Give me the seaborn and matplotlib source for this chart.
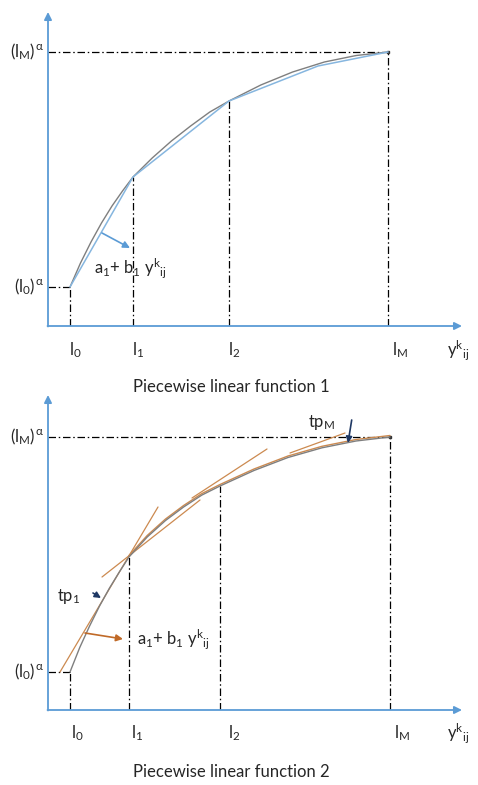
import matplotlib
matplotlib.use("Agg")
import matplotlib.pyplot as plt
import seaborn as sns

# ---- breakpoints (l0, l1, l2, lM) and function values, panel 1 ----
brk1_x = [2.2, 8.5, 18.1, 34.0]
brk1_y = [3.9, 14.9, 22.5, 27.4]
# concave function, panel 1
curve1_x = [2.2, 3.25, 4.3, 5.35, 6.4, 7.45, 8.5, 10.42, 12.34, 14.26, 16.18, 18.1,
            21.28, 24.46, 27.64, 30.82, 34.0]
curve1_y = [3.9, 6.3, 8.4, 10.3, 12.0, 13.5, 14.9, 16.8, 18.5, 20.0, 21.4, 22.5,
            24.1, 25.4, 26.4, 27.05, 27.4]
# piecewise linear approximation (chords), panel 1
pwl1_x = [2.2, 8.5, 18.1, 27.0, 34.0]
pwl1_y = [3.9, 14.9, 22.5, 26.0, 27.4]

# ---- panel 2 ----
brk2_x = [2.2, 8.1, 17.2, 34.2]
brk2_y = [3.8, 15.3, 22.4, 27.3]
curve2_x = [2.2, 3.18, 4.17, 5.15, 6.13, 7.12, 8.1, 9.92, 11.74, 13.56, 15.38, 17.2,
            20.6, 24.0, 27.4, 30.8, 34.2]
curve2_y = [3.8, 6.26, 8.42, 10.39, 12.16, 13.78, 15.3, 17.3, 18.94, 20.3, 21.49, 22.4,
            23.95, 25.25, 26.22, 26.9, 27.3]
# tangent-based approximation drawn over the function, panel 2
approx2_x = [8.1, 9.92, 11.74, 13.56, 15.38, 17.2, 20.6, 24.0, 27.4, 30.8, 34.2]
approx2_y = [15.45, 17.45, 19.09, 20.45, 21.64, 22.55, 24.1, 25.4, 26.37, 27.05, 27.45]
# tangent lines tp (start x, start y, end x, end y)
tangents2 = [
    (1.2, 3.8, 11.0, 20.3),
    (5.4, 13.3, 15.2, 21.0),
    (14.4, 21.2, 21.9, 26.1),
    (24.2, 25.7, 29.7, 27.7),
]

tick_labels = [r"$l_0$", r"$l_1$", r"$l_2$", r"$l_M$"]
y_top_label = r"$(l_M)^{\,\alpha}$"
y_bot_label = r"$(l_0)^{\,\alpha}$"
x_axis_label = r"$y^{k}{}_{ij}$"
eq_label = r"$a_1$+ $b_1$ $y^{k}{}_{ij}$"
titles = ["Piecewise linear function 1", "Piecewise linear function 2"]

sns.set_theme(style="white")
plt.rcParams["font.family"] = ["Lato", "DejaVu Sans"]
plt.rcParams["mathtext.fontset"] = "custom"
plt.rcParams["mathtext.rm"] = "Lato"
plt.rcParams["mathtext.it"] = "Lato"
plt.rcParams["mathtext.default"] = "regular"

AXIS_BLUE = "#5b9bd5"
CHORD_BLUE = "#86b6df"
GRAY = "#7f7f7f"
ORANGE = "#cc8a50"
NAVY = "#1f3864"
TEXT = "#262626"
DASH = (0, (6, 2.2, 1.2, 2.2))
FS = 12

W, H = 478, 785
fig = plt.figure(figsize=(W / 100, H / 100), dpi=100)


def make_axes(origin_px_y):
    # axes whose origin sits at pixel (48, origin_px_y) with 10 px per unit
    left = 48 / W
    width = 422 / W
    bottom = (H - origin_px_y) / H
    height = 318 / H
    ax = fig.add_axes([left, bottom, width, height])
    ax.set_xlim(0, 42.2)
    ax.set_ylim(0, 31.8)
    ax.axis("off")
    return ax


def draw_frame(ax, bx, by, x_label_y, x_label_dx, yaxis_top):
    ax.annotate("", xy=(41.4, 0), xytext=(-0.05, 0),
                arrowprops=dict(arrowstyle="-|>", color=AXIS_BLUE, lw=1.3,
                                mutation_scale=11, shrinkA=0, shrinkB=0),
                annotation_clip=False)
    ax.annotate("", xy=(0, yaxis_top), xytext=(0, -0.05),
                arrowprops=dict(arrowstyle="-|>", color=AXIS_BLUE, lw=1.3,
                                mutation_scale=11, shrinkA=0, shrinkB=0),
                annotation_clip=False)
    ax.vlines(bx, 0, by, colors="black", linestyles=DASH, lw=0.9)
    ax.hlines([by[-1], by[0]], 0, [bx[-1], bx[0]], colors="black",
              linestyles=DASH, lw=0.9)
    ax.plot([bx[-1]], [by[-1]], "s", ms=2, color="#333333")
    for x, lab, dx in zip(bx, tick_labels, x_label_dx):
        ax.text(x + dx, x_label_y, lab, ha="left", va="center", fontsize=FS,
                color=TEXT, clip_on=False)
    ax.text(39.9, x_label_y, x_axis_label, ha="left", va="center", fontsize=FS,
            color=TEXT, clip_on=False)
    ax.text(-0.35, by[-1], y_top_label, ha="right", va="center", fontsize=FS,
            color=TEXT, clip_on=False)
    ax.text(-0.35, by[0], y_bot_label, ha="right", va="center", fontsize=FS,
            color=TEXT, clip_on=False)


# ---------------- panel 1 ----------------
ax1 = make_axes(326)
draw_frame(ax1, brk1_x, brk1_y, -2.4, [-0.1, -0.1, -0.1, 0.4], 31.4)
sns.lineplot(x=curve1_x, y=curve1_y, ax=ax1, color=GRAY, lw=1.0, sort=False)
sns.lineplot(x=pwl1_x, y=pwl1_y, ax=ax1, color=CHORD_BLUE, lw=1.1, sort=False)
ax1.annotate("", xy=(8.2, 7.8), xytext=(5.4, 9.3),
             arrowprops=dict(arrowstyle="-|>", color=AXIS_BLUE, lw=1.2,
                             mutation_scale=10, shrinkA=0, shrinkB=0))
ax1.text(4.6, 5.8, eq_label, ha="left", va="center", fontsize=FS, color=TEXT)

# ---------------- panel 2 ----------------
ax2 = make_axes(710)
draw_frame(ax2, brk2_x, brk2_y, -2.3, [0.1, 0.2, 0.8, 0.4], 31.5)
for x0, y0, x1, y1 in tangents2:
    sns.lineplot(x=[x0, x1], y=[y0, y1], ax=ax2, color=ORANGE, lw=0.9, sort=False)
sns.lineplot(x=approx2_x, y=approx2_y, ax=ax2, color=ORANGE, lw=1.0, sort=False)
sns.lineplot(x=curve2_x, y=curve2_y, ax=ax2, color=GRAY, lw=1.0, sort=False)
ax2.annotate("", xy=(7.5, 7.1), xytext=(3.7, 7.7),
             arrowprops=dict(arrowstyle="-|>", color="#c06a28", lw=1.2,
                             mutation_scale=10, shrinkA=0, shrinkB=0))
ax2.text(8.9, 7.1, eq_label, ha="left", va="center", fontsize=FS, color=TEXT)
ax2.text(0.9, 11.3, r"$tp_1$", ha="left", va="center", fontsize=FS, color=TEXT)
ax2.annotate("", xy=(5.3, 11.2), xytext=(4.5, 11.7),
             arrowprops=dict(arrowstyle="-|>", color=NAVY, lw=1.2,
                             mutation_scale=9, shrinkA=0, shrinkB=0))
ax2.text(27.4, 28.7, r"$tp_M$", ha="center", va="center", fontsize=FS,
         color=TEXT, clip_on=False)
ax2.annotate("", xy=(30.0, 26.7), xytext=(30.37, 29.0),
             arrowprops=dict(arrowstyle="-|>", color=NAVY, lw=1.2,
                             mutation_scale=9, shrinkA=0, shrinkB=0),
             annotation_clip=False)

# ---------------- captions ----------------
fig.text(231 / W, 1 - 387 / H, titles[0], ha="center", va="center", fontsize=FS,
         color=TEXT)
fig.text(231 / W, 1 - 772 / H, titles[1], ha="center", va="center", fontsize=FS,
         color=TEXT)

fig.savefig("out.png", dpi=100)
